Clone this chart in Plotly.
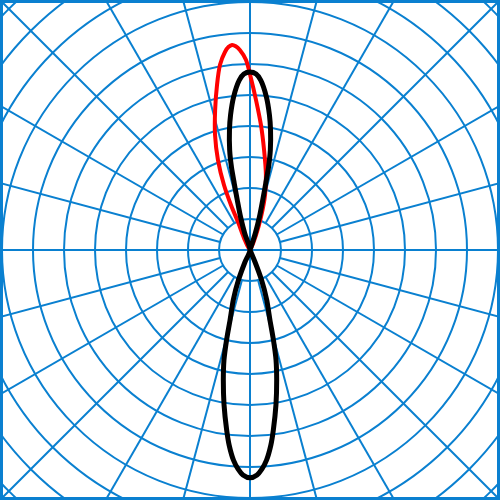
import numpy as np
import plotly.graph_objects as go

# Polar intensity chart (cd/klm), rings every 100
ring_radii = [100, 200, 300, 400, 500, 600, 700, 800, 900, 1000, 1100, 1200]
spoke_angles = list(range(0, 360, 15))
grid_color = "#0a80d0"

# gamma in degrees: 0 = straight down, 180 = straight up
black_gamma = [-24, -22.6, -21, -18.5, -15.9, -14.6, -13.3, -11.6, -9.5, -7.4, -6.1, -4.5,
               -3.1, -1.8, 0, 1.8, 3.1,
               4.5, 6.1, 7.4, 9.5, 11.6, 13.3, 14.6, 15.9, 18.5, 21, 22.6, 24,
               160.5, 162.4, 164.1, 165.7, 166.7, 167.4, 168.5, 170.3, 171.8, 173.9, 176.4,
               178, 180, 182,
               183.6, 186.1, 188.2, 189.7, 191.5, 192.6, 193.3, 194.3, 195.9, 197.6, 199.5]
black_cd = [0, 42, 104, 170, 235, 300, 365, 428, 507, 585, 633, 680,
            708, 726, 735, 726, 708,
            680, 633, 585, 507, 428, 365, 300, 235, 170, 104, 42, 0,
            0, 56, 112, 166, 221, 274, 329, 393, 440, 497, 549,
            568, 574, 568,
            549, 497, 440, 393, 329, 274, 221, 166, 112, 56, 0]

red_gamma = [156, 158.2, 161.6, 164.7, 168, 172, 175, 177.7, 179.7, 181.2, 182.9, 184,
             185, 186, 187.2, 189.2, 191.3, 194, 196.9, 199.6, 201.8, 202.9, 203.2, 206.6, 208]
red_cd = [0, 52, 112, 184, 247, 326, 405, 484, 555, 613, 646, 659,
          664, 659, 644, 605, 543, 465, 388, 308, 226, 157, 98, 43, 0]


def to_xy(gamma, cd):
    g = np.radians(np.array(gamma, dtype=float))
    r = np.array(cd, dtype=float)
    return r * np.sin(g), -r * np.cos(g)


fig = go.Figure()

rx, ry = to_xy(red_gamma, red_cd)
fig.add_trace(go.Scatter(x=rx, y=ry, mode="lines",
                         line=dict(color="#ff0000", width=4, shape="spline", smoothing=0.7),
                         hoverinfo="skip"))
bx, by = to_xy(black_gamma, black_cd)
fig.add_trace(go.Scatter(x=bx, y=by, mode="lines",
                         line=dict(color="#000000", width=5, shape="spline", smoothing=0.7),
                         hoverinfo="skip"))

# grid rings and spokes
shapes = []
for r in ring_radii:
    shapes.append(dict(type="circle", xref="x", yref="y", x0=-r, y0=-r, x1=r, y1=r,
                       line=dict(color=grid_color, width=2), layer="below"))
for a in spoke_angles:
    r0 = 0 if a % 90 == 0 else ring_radii[0]
    r1 = ring_radii[-1] + 200
    ca, sa = np.cos(np.radians(a)), np.sin(np.radians(a))
    shapes.append(dict(type="line", xref="x", yref="y", x0=r0 * ca, y0=r0 * sa,
                       x1=r1 * ca, y1=r1 * sa,
                       line=dict(color=grid_color, width=2), layer="below"))
shapes.append(dict(type="rect", xref="paper", yref="paper", x0=0, y0=0, x1=1, y1=1,
                   line=dict(color=grid_color, width=6)))

lim = 250 / 31 * 100
fig.update_layout(
    width=500,
    height=500,
    margin=dict(l=0, r=0, t=0, b=0),
    paper_bgcolor="white",
    plot_bgcolor="white",
    showlegend=False,
    shapes=shapes,
    xaxis=dict(range=[-lim, lim], visible=False, fixedrange=True),
    yaxis=dict(range=[-lim, lim], visible=False, fixedrange=True),
)

fig.write_html("out.html", config={"displayModeBar": False},
               post_script="document.body.style.margin='0';")
